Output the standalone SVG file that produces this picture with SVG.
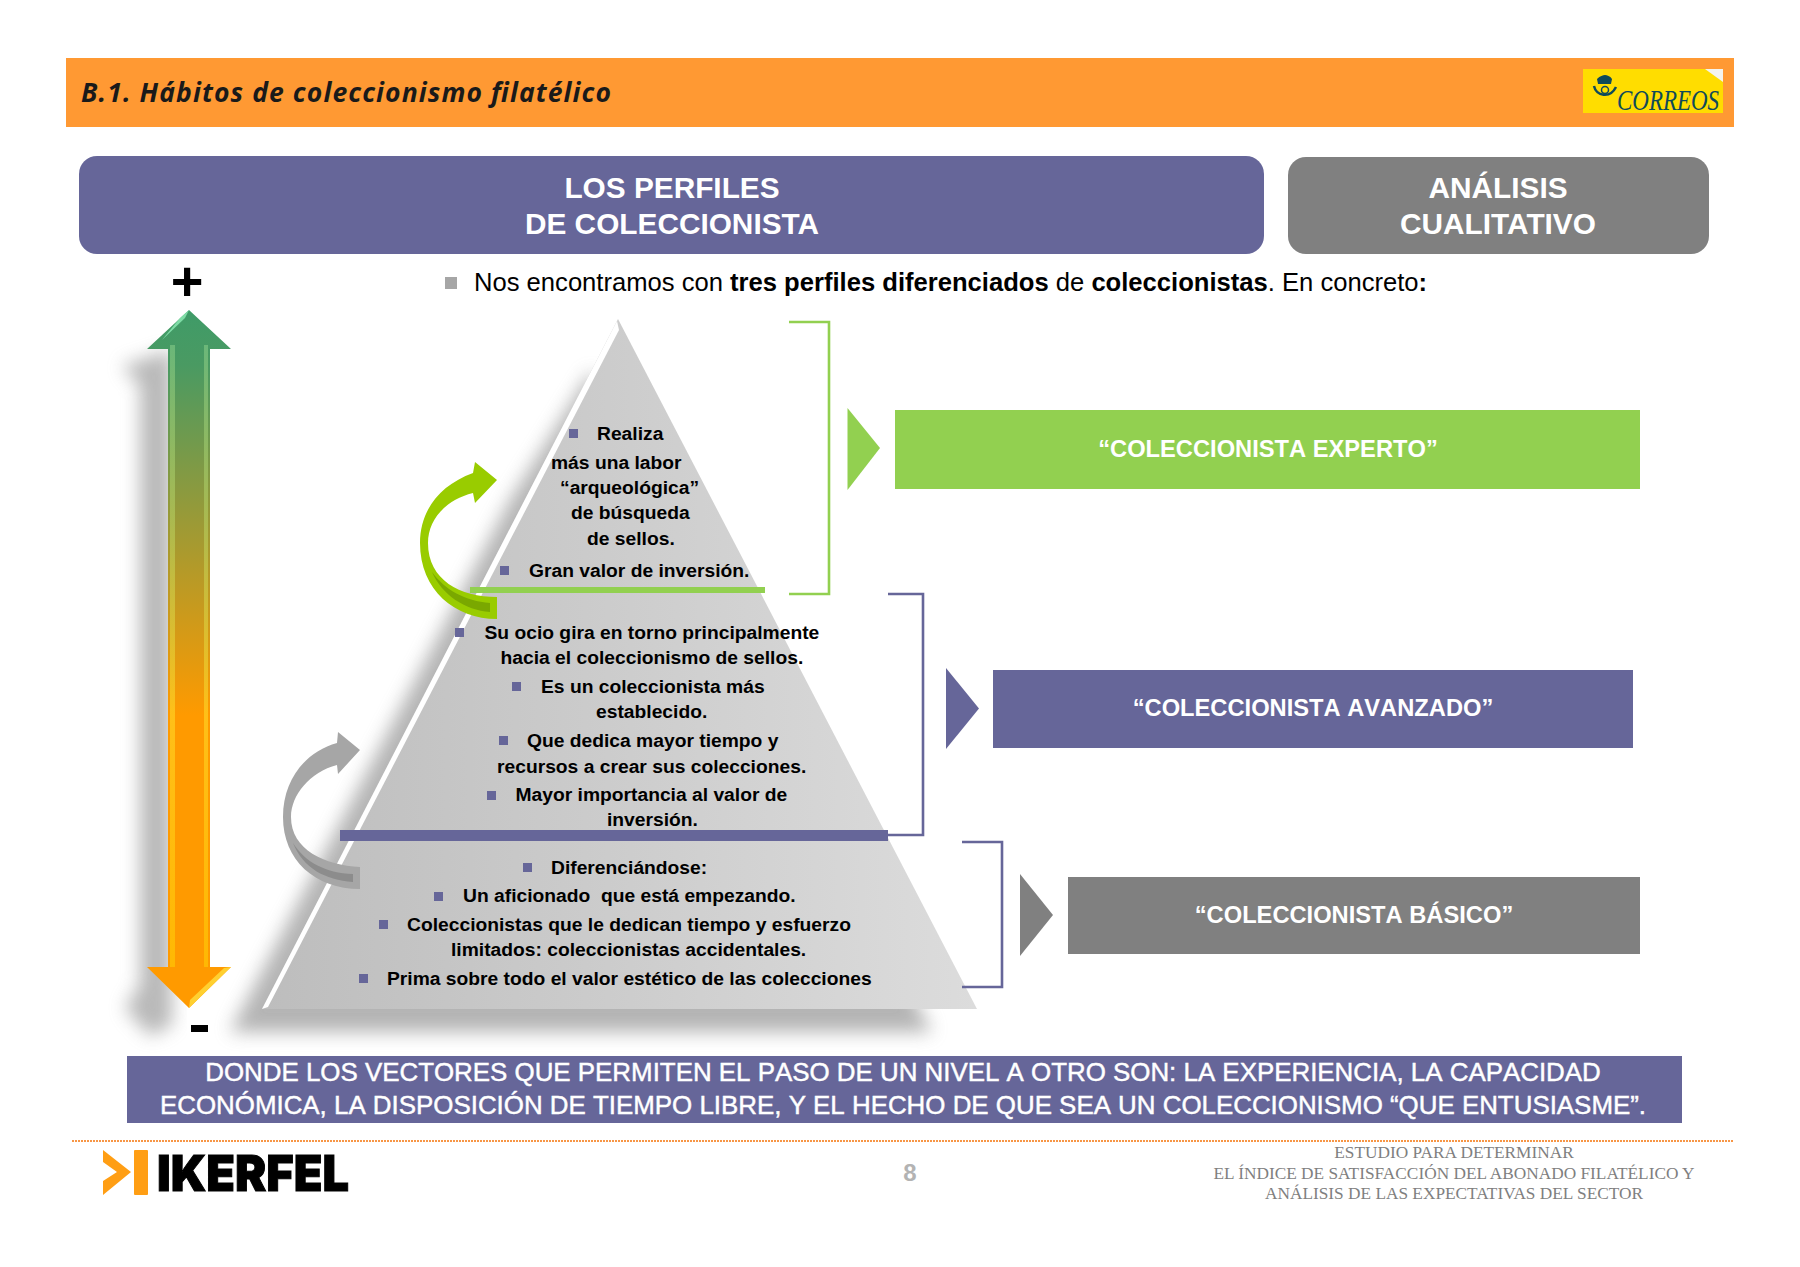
<svg xmlns="http://www.w3.org/2000/svg" width="1800" height="1267" viewBox="0 0 1800 1267">
<style>
text{font-family:"Liberation Sans",Arial,sans-serif}
.p{font-size:19.25px;font-weight:bold;fill:#000}
.h{font-size:29.800px;font-weight:bold;fill:#fff;text-anchor:middle}
.l{font-size:23.700px;font-weight:bold;fill:#fff;text-anchor:middle;font-kerning:none}
.b{font-size:25.900px;fill:#fff;text-anchor:middle;stroke:#fff;stroke-width:.45;font-kerning:none}
.f{font-family:"Liberation Serif",serif;font-size:17.300px;fill:#7f7f7f;text-anchor:middle}
.br{fill:none;stroke-width:2.6}
.bu{fill:#666699}
</style>
<defs>
<linearGradient id="pyr" x1="0" y1="0" x2="1" y2="0"><stop offset="0" stop-color="#bdbdbd"/><stop offset="1" stop-color="#dcdcdc"/></linearGradient>
<linearGradient id="va" x1="0" y1="310" x2="0" y2="1008" gradientUnits="userSpaceOnUse"><stop offset="0" stop-color="#3f9b68"/><stop offset=".08" stop-color="#4a9a62"/><stop offset=".58" stop-color="#ff9a00"/><stop offset="1" stop-color="#ff9a00"/></linearGradient>
<linearGradient id="vh" x1="0" y1="310" x2="0" y2="1008" gradientUnits="userSpaceOnUse"><stop offset="0" stop-color="#6cc088"/><stop offset=".3" stop-color="#b0c458"/><stop offset=".58" stop-color="#ffcc20"/><stop offset="1" stop-color="#ffc000"/></linearGradient>
<filter id="bl" x="-30%" y="-30%" width="160%" height="160%"><feGaussianBlur stdDeviation="9"/></filter>
</defs>
<rect width="1800" height="1267" fill="#fff"/>
<g id="header">
<rect x="66" y="58" width="1668" height="69" fill="#ff9933"/>
<text x="81" y="102" font-size="26.500" font-weight="bold" font-style="italic" fill="#1a1a1a" textLength="530" style="font-family:'Open Sans',sans-serif">B.1. Hábitos de coleccionismo filatélico</text>
</g>
<g id="logo-correos">
<rect x="1583" y="69" width="140" height="44" fill="#ffdd00"/>
<path d="M1705 69H1723V82Z" fill="#f4f4ee"/>
<path d="M1598 84L1597 79C1600 76 1603 75 1605 75 1607 75 1610 76 1612 79L1611 84Z" fill="#0f4a5a"/>
<path d="M1594 86C1596 96 1610 99 1616 87" fill="none" stroke="#0f4a5a" stroke-width="2.500"/>
<circle cx="1605" cy="90" r="3.500" fill="none" stroke="#0f4a5a" stroke-width="1.500"/>
<text x="1617" y="110" font-size="30" font-style="italic" fill="#0f4a5a" textLength="102" lengthAdjust="spacingAndGlyphs" style="font-family:'Liberation Serif',serif">CORREOS</text>
</g>
<g id="panel-perfiles">
<rect x="79" y="156" width="1185" height="98" rx="18" fill="#666699"/>
<text class="h" x="672" y="198">LOS PERFILES</text>
<text class="h" x="672" y="234">DE COLECCIONISTA</text>
</g>
<g id="panel-analisis">
<rect x="1288" y="157" width="421" height="97" rx="18" fill="#808080"/>
<text class="h" x="1498" y="198">ANÁLISIS</text>
<text class="h" x="1498" y="234">CUALITATIVO</text>
</g>
<g id="intro">
<rect x="445" y="277" width="12" height="12" fill="#a6a6a6"/>
<text x="474" y="291" font-size="25.600" fill="#000">Nos encontramos con <tspan font-weight="bold">tres perfiles diferenciados</tspan> de <tspan font-weight="bold">coleccionistas</tspan>. En concreto<tspan font-weight="bold">:</tspan></text>
</g>
<g id="vertical-arrow">
<path d="M122 366L172 350V1025L150 1036 125 1008 140 985V385Z" fill="#8a8a8a" opacity=".6" filter="url(#bl)"/>
<path d="M189 310L231 349H210V967H231L189 1008L147 967H168V349H147Z" fill="url(#va)"/>
<rect x="170" y="345" width="5" height="622" fill="url(#vh)" opacity=".75"/>
<rect x="204" y="345" width="4" height="622" fill="url(#vh)" opacity=".75"/>
<path d="M189 310L180 318 162 340 185 318Z" fill="#7fdca6"/>
<path d="M189 1008L231 967 224 968 190 1000Z" fill="#ffd030"/>
<text x="187" y="300" font-size="56" font-weight="bold" fill="#000" text-anchor="middle">+</text>
<rect x="191" y="1025" width="17" height="7" fill="#000"/>
</g>
<g id="pyramid">
<path d="M592 370L510 500 230 1032H932L640 500Z" fill="#8a8a8a" opacity=".64" filter="url(#bl)"/>
<path d="M618 319L262 1009H977Z" fill="url(#pyr)"/>
<path d="M617 321L262 1009 268 1007 619 330Z" fill="#fff"/>
<rect x="470" y="587" width="295" height="6" fill="#92d050"/>
<rect x="340" y="830" width="548" height="11" fill="#666699"/>
</g>
<g id="text-experto">
<rect class="bu" x="569" y="429" width="9" height="9"/><text class="p" x="597" y="440">Realiza</text>
<text class="p" x="551" y="469">más una labor</text>
<text class="p" x="560" y="494">“arqueológica”</text>
<text class="p" x="571" y="519">de búsqueda</text>
<text class="p" x="587" y="545">de sellos.</text>
<rect class="bu" x="500" y="566" width="9" height="9"/><text class="p" x="529" y="577">Gran valor de inversión.</text>
</g>
<g id="text-avanzado">
<rect class="bu" x="455" y="628" width="9" height="9"/><text class="p" x="484.500" y="639">Su ocio gira en torno principalmente</text>
<text class="p" x="500.500" y="664">hacia el coleccionismo de sellos.</text>
<rect class="bu" x="512" y="682" width="9" height="9"/><text class="p" x="541" y="693">Es un coleccionista más</text>
<text class="p" x="596" y="718">establecido.</text>
<rect class="bu" x="499" y="736" width="9" height="9"/><text class="p" x="527" y="747">Que dedica mayor tiempo y</text>
<text class="p" x="497" y="773">recursos a crear sus colecciones.</text>
<rect class="bu" x="487" y="791" width="9" height="9"/><text class="p" x="515.500" y="801">Mayor importancia al valor de</text>
<text class="p" x="607" y="826">inversión.</text>
</g>
<g id="text-basico">
<rect class="bu" x="523" y="863" width="9" height="9"/><text class="p" x="551" y="874">Diferenciándose:</text>
<rect class="bu" x="434" y="892" width="9" height="9"/><text class="p" x="463" y="902" xml:space="preserve">Un aficionado  que está empezando.</text>
<rect class="bu" x="379" y="920" width="9" height="9"/><text class="p" x="407" y="931">Coleccionistas que le dedican tiempo y esfuerzo</text>
<text class="p" x="451" y="956">limitados: coleccionistas accidentales.</text>
<rect class="bu" x="359" y="974" width="9" height="9"/><text class="p" x="387" y="985">Prima sobre todo el valor estético de las colecciones</text>
</g>
<g id="curved-arrow-green">
<path d="M497 480L475 462 473 473C440 485 420 510 420 543 420 590 455 619 497 619V597C460 597 428 580 428 543 428 520 445 500 473 493L475 503Z" fill="#99cc00"/>
<path d="M432 572C445 590 465 601 490 603V612C465 610 442 595 432 572Z" fill="#7aa800"/>
</g>
<g id="curved-arrow-gray">
<path d="M360 750L338 732 337 743C305 752 283 780 283 817 283 860 315 889 360 889V867C325 865 291 850 291 817 291 795 310 772 337 765L338 774Z" fill="#a6a6a6"/>
<path d="M293 843C305 862 325 873 353 874V882C325 880 303 868 293 843Z" fill="#8c8c8c"/>
</g>
<g id="connectors">
<path class="br" stroke="#92d050" d="M789 322H829V594H789"/>
<path class="br" stroke="#666699" d="M888 594H923V835H888"/>
<path class="br" stroke="#666699" d="M962 842H1002V987H962"/>
<path d="M847.500 408L880 448 847.500 490Z" fill="#92d050"/>
<path d="M946 668L979 708.500 946 749Z" fill="#666699"/>
<path d="M1020 874L1053 915 1020 956Z" fill="#808080"/>
</g>
<g id="node-experto">
<rect x="895" y="410" width="745" height="79" fill="#92d050"/>
<text class="l" x="1268" y="457">“COLECCIONISTA EXPERTO”</text>
</g>
<g id="node-avanzado">
<rect x="993" y="670" width="640" height="78" fill="#666699"/>
<text class="l" x="1313" y="716">“COLECCIONISTA AVANZADO”</text>
</g>
<g id="node-basico">
<rect x="1068" y="877" width="572" height="77" fill="#808080"/>
<text class="l" x="1354" y="923">“COLECCIONISTA BÁSICO”</text>
</g>
<g id="banner">
<rect x="127" y="1056" width="1555" height="67" fill="#666699"/>
<text class="b" x="903" y="1081">DONDE LOS VECTORES QUE PERMITEN EL PASO DE UN NIVEL A OTRO SON: LA EXPERIENCIA, LA CAPACIDAD</text>
<text class="b" x="903" y="1114">ECONÓMICA, LA DISPOSICIÓN DE TIEMPO LIBRE, Y EL HECHO DE QUE SEA UN COLECCIONISMO “QUE ENTUSIASME”.</text>
</g>
<g id="footer">
<line x1="72" y1="1141" x2="1733" y2="1141" stroke="#f79646" stroke-width="2" stroke-dasharray="2 1"/>
<path d="M103 1150L131 1172 103 1195V1181L117 1172 103 1162Z" fill="#ff9e14"/>
<rect x="134" y="1150" width="14" height="45" rx="1" fill="#ff9e14"/>
<text x="157" y="1191" font-size="50" font-weight="900" fill="#000" stroke="#000" stroke-width="1" textLength="192" lengthAdjust="spacingAndGlyphs" style="font-family:Inter,'Liberation Sans',sans-serif">IKERFEL</text>
<text x="910" y="1181" font-size="24" font-weight="bold" fill="#b3b3b3" text-anchor="middle">8</text>
<text class="f" x="1454" y="1158">ESTUDIO PARA DETERMINAR</text>
<text class="f" x="1454" y="1179">EL ÍNDICE DE SATISFACCIÓN DEL ABONADO FILATÉLICO Y</text>
<text class="f" x="1454" y="1199">ANÁLISIS DE LAS EXPECTATIVAS DEL SECTOR</text>
</g>
</svg>
